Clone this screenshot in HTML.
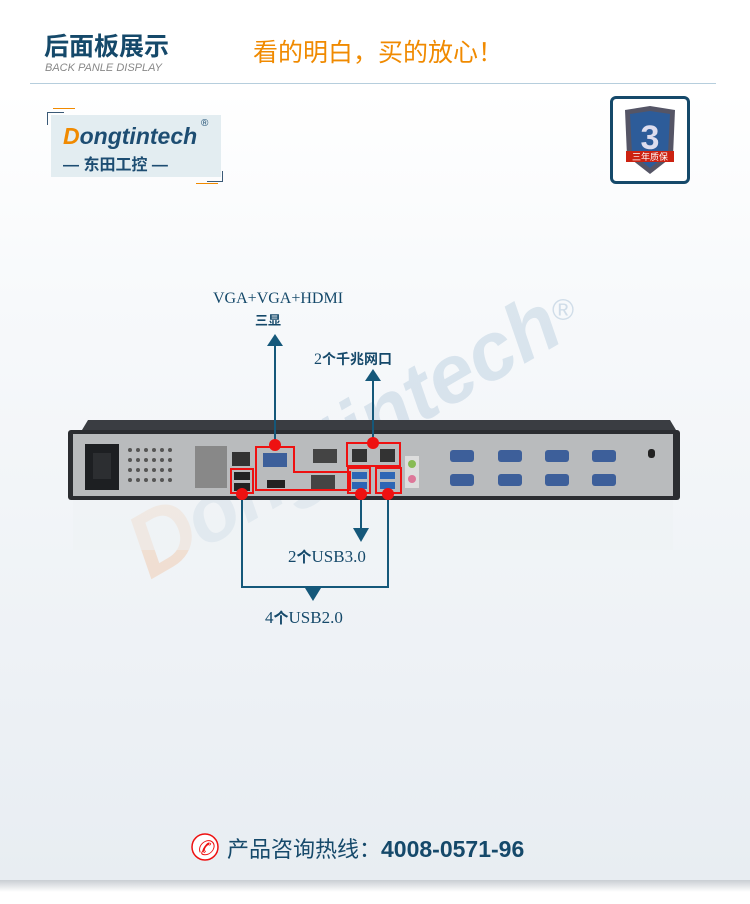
<!DOCTYPE html>
<html><head><meta charset="utf-8"><style>
html,body{margin:0;padding:0}
body{width:750px;height:904px;position:relative;overflow:hidden;background:linear-gradient(#fff 0,#fff 90px,#f7f9fb 300px,#e8edf2 880px,#fff 881px);font-family:"Liberation Sans","Noto Sans CJK SC",sans-serif}
.a{position:absolute}
</style></head><body>
<div class="a" style="left:44px;top:27px;font-size:25px;font-weight:bold;color:#15496a">后面板展示</div>
<div class="a" style="left:45px;top:62px;font-size:11px;color:#888;font-style:italic">BACK PANLE DISPLAY</div>
<div class="a" style="left:253px;top:33px;font-size:25px;color:#f08a00">看的明白，买的放心！</div>
<div class="a" style="left:30px;top:83px;width:686px;height:1px;background:#b6cedd"></div>
<!-- logo -->
<div class="a" style="left:51px;top:115px;width:170px;height:62px;background:#e3edf1"></div>
<div class="a" style="left:47px;top:112px;width:16px;height:12px;border-left:1px solid #3b5a77;border-top:1px solid #3b5a77"></div>
<div class="a" style="left:53px;top:108px;width:22px;height:1px;background:#f08a00"></div>
<div class="a" style="left:207px;top:171px;width:15px;height:10px;border-right:1px solid #3b5a77;border-bottom:1px solid #3b5a77"></div>
<div class="a" style="left:196px;top:183px;width:22px;height:1px;background:#f08a00"></div>
<div class="a" style="left:63px;top:123px;font-size:23px;font-weight:bold;color:#1d4d72;font-style:italic"><span style="color:#f08a00">D</span>ongtintech</div>
<div class="a" style="left:201px;top:118px;font-size:10px;color:#1d4d72">®</div>
<div class="a" style="left:63px;top:151px;font-size:16px;font-weight:bold;color:#1d4d72">— 东田工控 —</div>
<!-- badge -->
<div class="a" style="left:610px;top:96px;width:74px;height:82px;border:3px solid #15496a;border-radius:6px;background:#fff"></div>
<svg class="a" style="left:610px;top:96px" width="80" height="88">
<path d="M15 14 L40 10 L65 14 L63 60 L40 78 L17 60 Z" fill="#556"/>
<path d="M20 18 L40 15 L60 18 L58 58 L40 72 L22 58 Z" fill="#2d5c99"/>
<text x="40" y="53" font-size="34" font-weight="bold" fill="#dde" text-anchor="middle" font-family="Liberation Sans">3</text>
<rect x="16" y="55" width="48" height="11" fill="#c21"/>
<text x="40" y="64" font-size="9" fill="#fff" text-anchor="middle" font-family="Noto Sans CJK SC">三年质保</text>
</svg>
<svg class="a" style="left:0;top:0" width="750" height="904">
<!-- watermark -->
<g transform="translate(150,580) rotate(-30)" font-family="Liberation Sans" font-weight="bold" font-style="italic">
<text x="0" y="0" font-size="90" fill="rgba(240,150,80,.22)">D</text>
<text x="62" y="0" font-size="82" fill="rgba(90,140,180,.18)">ongtintech</text>
</g>
<text x="552" y="320" font-size="30" fill="rgba(90,140,180,.25)" font-family="Liberation Sans">®</text>
<!-- device -->
<path d="M88 420 L670 420 L676 430 L82 430 Z" fill="#3a3d42"/>
<rect x="68" y="430" width="612" height="70" rx="3" fill="#2b2d31"/>
<rect x="73" y="434" width="600" height="62" fill="#b9bbbd"/>
<rect x="73" y="500" width="600" height="50" fill="#eef1f3" opacity=".5"/>
<rect x="85" y="444" width="34" height="46" fill="#1d1f22"/>
<rect x="93" y="453" width="18" height="26" fill="#2c2e31"/>
<g fill="#555"><circle cx="130" cy="450" r="2"/><circle cx="138" cy="450" r="2"/><circle cx="146" cy="450" r="2"/><circle cx="154" cy="450" r="2"/><circle cx="162" cy="450" r="2"/><circle cx="170" cy="450" r="2"/>
<circle cx="130" cy="460" r="2"/><circle cx="138" cy="460" r="2"/><circle cx="146" cy="460" r="2"/><circle cx="154" cy="460" r="2"/><circle cx="162" cy="460" r="2"/><circle cx="170" cy="460" r="2"/>
<circle cx="130" cy="470" r="2"/><circle cx="138" cy="470" r="2"/><circle cx="146" cy="470" r="2"/><circle cx="154" cy="470" r="2"/><circle cx="162" cy="470" r="2"/><circle cx="170" cy="470" r="2"/>
<circle cx="130" cy="480" r="2"/><circle cx="138" cy="480" r="2"/><circle cx="146" cy="480" r="2"/><circle cx="154" cy="480" r="2"/><circle cx="162" cy="480" r="2"/><circle cx="170" cy="480" r="2"/></g>
<rect x="195" y="446" width="32" height="42" fill="#888"/>
<rect x="232" y="452" width="18" height="14" fill="#333"/>
<rect x="234" y="472" width="16" height="8" fill="#222"/><rect x="234" y="483" width="16" height="8" fill="#222"/>
<rect x="263" y="453" width="24" height="14" fill="#3d5f9a"/>
<rect x="267" y="480" width="18" height="8" fill="#222"/>
<rect x="313" y="449" width="24" height="14" fill="#444"/>
<rect x="311" y="475" width="24" height="14" fill="#444"/>
<rect x="352" y="449" width="15" height="13" fill="#333"/><rect x="380" y="449" width="15" height="13" fill="#333"/>
<rect x="352" y="472" width="15" height="7" fill="#2e66b5"/><rect x="352" y="482" width="15" height="7" fill="#2e66b5"/>
<rect x="380" y="472" width="15" height="7" fill="#2e66b5"/><rect x="380" y="482" width="15" height="7" fill="#2e66b5"/>
<rect x="405" y="456" width="14" height="32" fill="#ddd"/>
<circle cx="412" cy="464" r="4" fill="#8b5"/><circle cx="412" cy="479" r="4" fill="#d79"/>
<g fill="#3d5f9a"><rect x="450" y="450" width="24" height="12" rx="3"/><rect x="498" y="450" width="24" height="12" rx="3"/><rect x="545" y="450" width="24" height="12" rx="3"/><rect x="592" y="450" width="24" height="12" rx="3"/>
<rect x="450" y="474" width="24" height="12" rx="3"/><rect x="498" y="474" width="24" height="12" rx="3"/><rect x="545" y="474" width="24" height="12" rx="3"/><rect x="592" y="474" width="24" height="12" rx="3"/></g>
<rect x="648" y="449" width="7" height="9" rx="3" fill="#222"/>
<g fill="none" stroke="#e11" stroke-width="2">
<path d="M256 447 H294 V472 H350 V490 H256 Z"/>
<rect x="231" y="469" width="22" height="24"/>
<rect x="347" y="443" width="53" height="23"/>
<rect x="348" y="468" width="22" height="25"/>
<rect x="376" y="468" width="25" height="25"/>
</g>
<g stroke="#15587a" stroke-width="2" fill="none">
<line x1="275" y1="445" x2="275" y2="345"/>
<line x1="373" y1="443" x2="373" y2="380"/>
<path d="M242 494 V587 H388 V494"/>
<line x1="361" y1="494" x2="361" y2="530"/>
</g>
<g fill="#15587a">
<path d="M267 346 L283 346 L275 334 Z"/>
<path d="M365 381 L381 381 L373 369 Z"/>
<path d="M353 528 L369 528 L361 542 Z"/>
<path d="M305 588 L321 588 L313 601 Z"/>
</g>
<g fill="#e11"><circle cx="275" cy="445" r="6"/><circle cx="373" cy="443" r="6"/><circle cx="242" cy="494" r="6"/><circle cx="361" cy="494" r="6"/><circle cx="388" cy="494" r="6"/></g>
<text x="213" y="303" font-family="Liberation Serif" font-size="16" fill="#15496a">VGA+VGA+HDMI</text>
<text x="255" y="325" font-family="Noto Sans CJK SC" font-weight="bold" font-size="13" fill="#15496a">三显</text>
<text x="314" y="364" font-family="Liberation Serif, Noto Sans CJK SC" font-size="16" fill="#15496a">2<tspan font-family="Noto Sans CJK SC" font-weight="bold" font-size="14">个千兆网口</tspan></text>
<text x="288" y="562" font-family="Liberation Serif, Noto Sans CJK SC" font-size="17" fill="#15496a">2<tspan font-family="Noto Sans CJK SC" font-weight="bold" font-size="15">个</tspan>USB3.0</text>
<text x="265" y="623" font-family="Liberation Serif, Noto Sans CJK SC" font-size="17" fill="#15496a">4<tspan font-family="Noto Sans CJK SC" font-weight="bold" font-size="15">个</tspan>USB2.0</text>
<circle cx="205" cy="847" r="13" fill="#fff" stroke="#e11" stroke-width="1.5"/>
<text x="205" y="855" text-anchor="middle" font-size="20" fill="#e11" font-style="italic" font-family="Liberation Serif">✆</text>
</svg>
<div class="a" style="left:227px;top:832px;font-size:22px;color:#15496a">产品咨询热线：<b style="font-family:'Liberation Sans';font-size:23px">4008-0571-96</b></div>
<div class="a" style="left:0;top:880px;width:750px;height:12px;background:linear-gradient(#c9ced3,#fff)"></div>
</body></html>
